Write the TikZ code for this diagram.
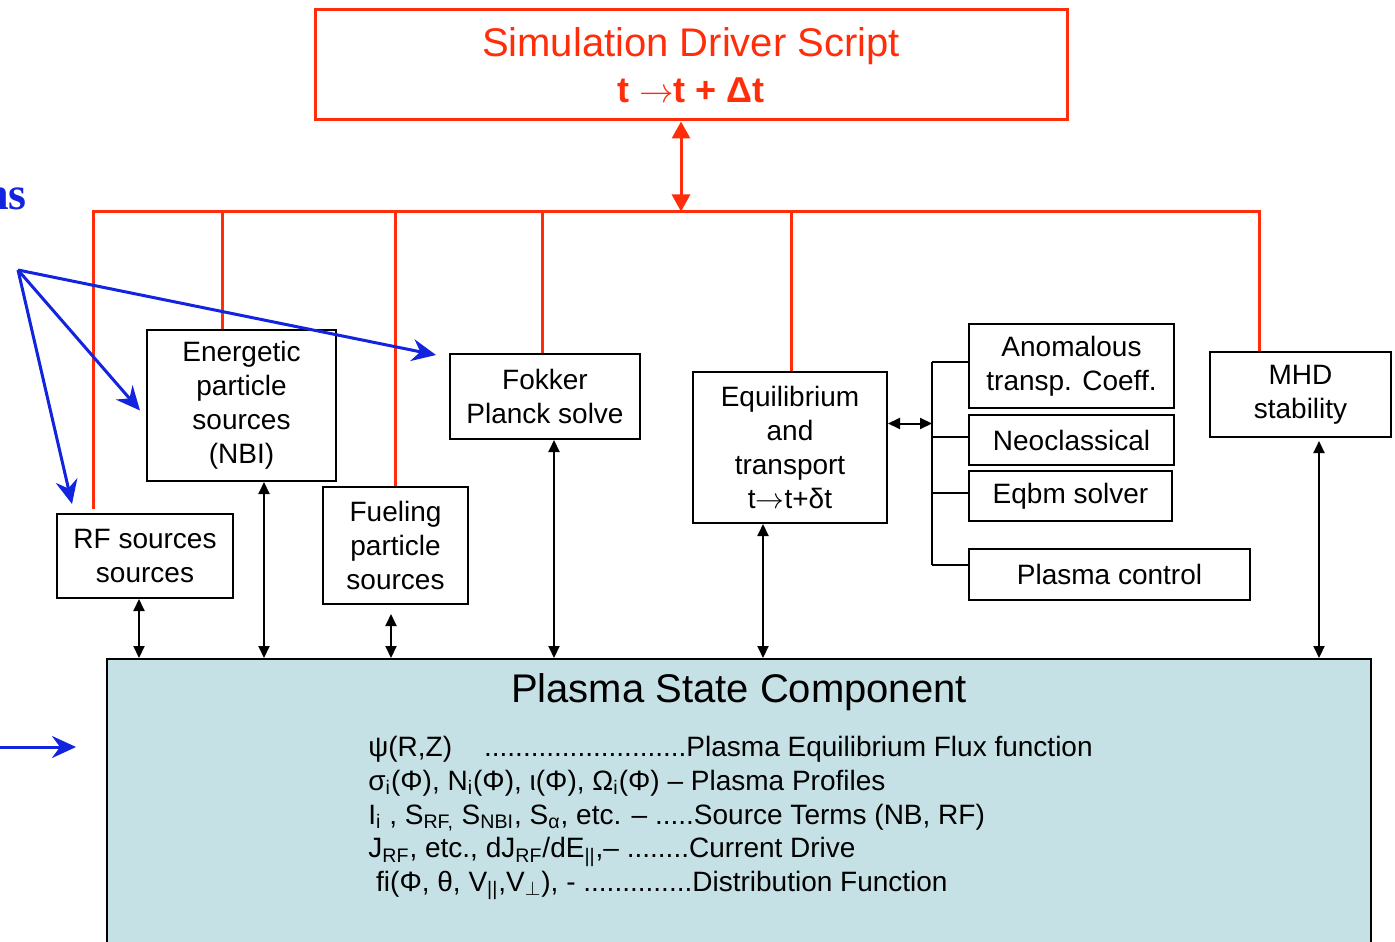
\documentclass[tikz,border=0pt]{standalone}
\usepackage{fontspec}
\setmainfont{Liberation Sans}
\newfontfamily\labelfont{Liberation Serif}
\usetikzlibrary{arrows.meta,positioning,calc}

\definecolor{drvred}{RGB}{255,45,10}
\definecolor{annblue}{RGB}{18,36,222}
\definecolor{psfill}{RGB}{197,225,229}

\tikzset{
  modbox/.style={draw, line width=1pt, align=center, inner sep=0pt,
    font=\fontsize{14}{17}\selectfont},
  drvline/.style={drvred, line width=1.5pt},
  dbl/.style={line width=1pt,
    {Triangle[length=6pt,width=5.5pt]}-{Triangle[length=6pt,width=5.5pt]}},
  annarrow/.style={annblue, line width=1.5pt,
    -{Stealth[length=12pt,width=11pt,inset=4pt]}}
}

\begin{document}
\begin{tikzpicture}[x=0.5pt,y=-0.5pt]
\useasboundingbox (0,0) rectangle (1395,941);

% driver script
\node[draw=drvred, line width=1.5pt, minimum width=376pt, minimum height=55pt,
  text=drvred, align=center, font=\fontsize{20}{23}\selectfont]
  (drv) at (691,65) {Simulation Driver Script\\{\fontsize{18}{23}\selectfont\bfseries t $\rightarrow$t + Δt}};

% components
\node[modbox, minimum width=88pt, minimum height=42pt] (rf) at (145,556) {RF sources\\sources};
\node[modbox, minimum width=94.5pt, minimum height=75.5pt] (nbi) at (241.5,405.5) {Energetic\\particle\\sources\\(NBI)};
\node[modbox, minimum width=72.5pt, minimum height=58.5pt] (fuel) at (395.5,545.5) {Fueling\\particle\\sources};
\node[modbox, minimum width=95pt, minimum height=42.5pt] (fp) at (545,396.5) {Fokker\\Planck solve};
\node[modbox, minimum width=97pt, minimum height=75.5pt] (eq) at (790,447.5) {Equilibrium\\and\\transport\\t$\rightarrow$t+δt};
\node[modbox, minimum width=102.5pt, minimum height=42pt] (anom) at (1071.5,366) {Anomalous\\transp. Coeff.};
\node[modbox, minimum width=102.5pt, minimum height=25pt] (neo) at (1071.5,440) {Neoclassical};
\node[modbox, minimum width=101.5pt, minimum height=25pt] (eqbm) at (1070.5,496) {Eqbm solver};
\node[modbox, minimum width=140.5pt, minimum height=25.5pt] (pctl) at (1109.5,574.5) {Plasma control};
\node[modbox, minimum width=90.5pt, minimum height=42.5pt] (mhd) at (1300.5,394.5) {MHD\\stability};

% plasma state
\node[draw, line width=1pt, fill=psfill, minimum width=632pt, minimum height=160pt,
  anchor=north] (state) at (739,658) {};
\node[font=\fontsize{20}{24}\selectfont, inner sep=0pt, below=7.5pt of state.north] (stitle) {Plasma State Component};
\node[anchor=north west, align=left, inner sep=0pt, font=\fontsize{14}{16.85}\selectfont]
  (svars) at (368,736) {%
  ψ(R,Z)\hspace{16pt}..........................Plasma Equilibrium Flux function\\
  σ\textsubscript{i}(Φ), N\textsubscript{i}(Φ), ι(Φ), Ω\textsubscript{i}(Φ) – Plasma Profiles\\
  I\textsubscript{i} , S\textsubscript{RF,} S\textsubscript{NBI}, S\textsubscript{α}, etc. – .....Source Terms (NB, RF)\\
  J\textsubscript{RF}, etc., dJ\textsubscript{RF}/dE\textsubscript{||},– ........Current Drive\\
  \ fi(Φ, θ, V\textsubscript{||},V\textsubscript{$\perp$}), - ..............Distribution Function};

% data exchange with the plasma state
\foreach \n/\dx/\dy in {rf/-6/0, nbi/22.5/0, fuel/-4.5/9, fp/9/0, eq/-27/0, mhd/18.5/3}{
  \coordinate (p\n) at ($(\n.south)+(\dx,\dy)$);
  \draw[dbl] (p\n) -- (p\n |- state.north);
}

% bracket of transport modules
\coordinate (brk) at ($(eq.east)+(44,0)$);
\foreach \n/\dy in {anom/-4, neo/-3, eqbm/-3, pctl/-9.5}{
  \coordinate (t\n) at ($(\n.west)+(0,\dy)$);
  \draw[line width=1pt] (t\n) -- (t\n -| brk);
}
\draw[line width=1pt] (tanom -| brk) -- (tpctl -| brk);
\coordinate (eqr) at ($(eq.east)+(0,-24)$);
\draw[dbl] (eqr) -- (eqr -| brk);

% driver bus
\coordinate (busc) at ($(drv.south)+(-10,90)$);
\draw[drvline, {Triangle[length=8.5pt,width=9pt]}-{Triangle[length=8.5pt,width=9pt]}]
  ($(drv.south)+(-10,0)$) -- (busc);
\foreach \n/\dx/\dy in {rf/-52/-4, nbi/-19.5/0, fuel/0/0, fp/-3/0, eq/1/0, mhd/-41.5/0}{
  \coordinate (r\n) at ($(\n.north)+(\dx,\dy)$);
  \draw[drvline] (r\n) -- (r\n |- busc);
}
\draw[drvline, line cap=rect] (rrf |- busc) -- (rmhd |- busc);

% annotations
\node[text=annblue, font=\labelfont\bfseries\fontsize{23}{23}\selectfont,
  anchor=base east, inner sep=0pt] (cap) at (27,210) {ns};
\coordinate (src) at (18,270);
\draw[annarrow] (src) -- ($(rf.north west)+(16,-9)$);
\draw[annarrow] (src) -- ($(nbi.west)+(-6,5)$);
\draw[annarrow] (src) -- ($(fp.north west)+(-13,2)$);
\coordinate (psin) at (-4,747);
\draw[annarrow] (psin) -- ($(state.north west)+(-30,89)$);
\end{tikzpicture}
\end{document}
